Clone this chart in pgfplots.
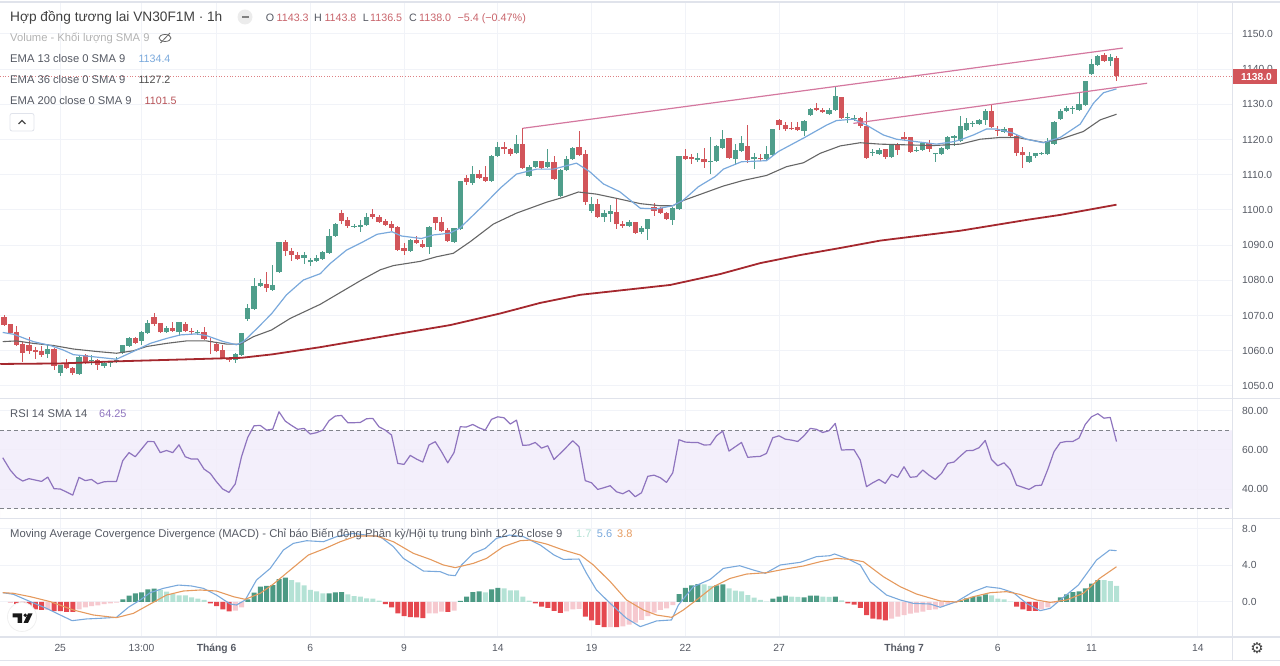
\documentclass[border=0pt]{standalone}
\usepackage{pgfplots}
\usepackage{pgfplotstable}
\usepackage{fontspec}
\pgfplotsset{compat=1.18}
\setmainfont{Liberation Sans}
\newfontfamily\djv{DejaVu Sans}
\definecolor{cgreen}{HTML}{4F9E8B}
\definecolor{cred}{HTML}{D2555A}
\definecolor{emablue}{HTML}{7AA9DC}
\definecolor{emagray}{HTML}{666666}
\definecolor{emared}{HTML}{A5282E}
\definecolor{tpink}{HTML}{D4789F}
\definecolor{gridc}{HTML}{F1F3F8}
\definecolor{sepc}{HTML}{E0E3EB}
\definecolor{rsil}{HTML}{8E74BE}
\definecolor{rsib}{HTML}{F1ECFA}
\definecolor{hdg}{HTML}{4C9A84}
\definecolor{hlg}{HTML}{B4E2D5}
\definecolor{hdr}{HTML}{E5484F}
\definecolor{hlr}{HTML}{F6C9CF}
\definecolor{macdo}{HTML}{E59A5E}
\definecolor{txt}{HTML}{555963}
\definecolor{vred}{HTML}{C8636A}

\pgfplotstableread{
i o h l c
7 1059.0 1061.9 1058.0 1060.5
9 1053.8 1056.0 1052.7 1056.0
12 1053.4 1058.5 1053.3 1058.1
14 1057.0 1058.7 1056.0 1057.4
16 1055.7 1056.7 1055.0 1056.4
17 1056.4 1057.2 1055.5 1056.7
18 1057.2 1058.3 1056.4 1057.5
19 1059.5 1061.7 1059.3 1061.5
20 1061.4 1064.0 1061.2 1063.7
22 1062.8 1065.7 1061.5 1065.2
23 1065.0 1068.6 1064.8 1068.0
26 1065.2 1067.0 1065.1 1066.4
28 1065.2 1068.3 1064.2 1068.1
31 1065.2 1065.9 1064.4 1065.4
37 1057.4 1059.3 1056.6 1059.0
38 1058.8 1065.0 1058.7 1065.0
39 1069.0 1073.3 1068.4 1072.2
40 1071.9 1080.6 1071.8 1078.5
41 1078.4 1080.4 1078.2 1079.2
43 1077.4 1084.4 1077.3 1078.8
44 1082.3 1090.8 1082.2 1090.8
48 1086.3 1088.2 1084.7 1087.2
49 1085.1 1086.3 1084.1 1085.7
50 1085.5 1087.2 1085.3 1086.4
51 1086.2 1088.4 1085.8 1088.2
52 1087.9 1094.5 1087.7 1092.6
53 1092.7 1096.4 1092.6 1096.0
56 1095.3 1096.0 1094.9 1095.5
57 1095.2 1097.2 1093.6 1095.8
58 1095.6 1099.2 1095.5 1098.1
65 1088.4 1091.8 1088.3 1091.4
68 1089.6 1095.5 1087.5 1095.3
72 1091.0 1094.9 1090.9 1094.8
73 1094.7 1108.3 1094.5 1108.2
75 1107.8 1112.6 1107.1 1110.1
78 1108.2 1115.6 1108.1 1115.4
79 1115.4 1119.2 1115.2 1117.9
82 1116.1 1121.3 1115.9 1118.8
84 1109.7 1112.8 1109.3 1112.1
85 1112.2 1113.9 1112.1 1113.8
87 1112.2 1117.2 1111.9 1113.6
89 1104.1 1111.6 1104.0 1111.4
90 1111.4 1115.3 1111.2 1114.4
91 1114.4 1117.8 1114.2 1117.6
94 1099.8 1103.8 1099.1 1101.8
96 1098.0 1100.0 1096.7 1099.1
97 1098.9 1101.4 1096.7 1099.6
100 1095.4 1097.2 1095.1 1096.6
102 1093.8 1095.5 1093.2 1094.8
103 1094.6 1097.5 1091.5 1097.5
107 1097.2 1100.8 1095.7 1100.5
108 1100.2 1115.4 1100.0 1115.3
111 1114.3 1116.3 1113.7 1114.7
113 1113.5 1120.6 1110.2 1113.8
114 1114.0 1118.5 1113.9 1118.1
115 1117.7 1122.7 1117.5 1120.3
117 1114.4 1118.8 1112.8 1117.0
118 1116.7 1121.0 1116.5 1119.0
120 1114.4 1116.1 1111.7 1115.0
122 1114.4 1118.3 1113.9 1115.8
123 1115.5 1123.1 1115.3 1123.0
128 1122.5 1125.5 1121.0 1125.4
129 1126.9 1128.9 1126.7 1128.6
132 1127.4 1128.9 1127.2 1128.5
133 1128.3 1135.0 1128.1 1132.5
135 1126.0 1127.5 1124.6 1126.4
136 1125.8 1127.1 1125.3 1126.0
139 1116.2 1117.3 1115.3 1116.5
140 1115.9 1117.6 1115.7 1117.0
142 1115.0 1118.7 1114.9 1118.5
146 1116.8 1118.0 1116.5 1117.1
147 1117.0 1119.3 1116.9 1119.1
149 1115.8 1116.2 1113.7 1116.2
150 1115.9 1117.8 1115.7 1117.6
151 1117.3 1121.0 1117.1 1120.6
152 1120.5 1121.3 1118.2 1121.0
153 1119.7 1126.7 1119.5 1123.9
154 1122.7 1126.0 1122.5 1124.8
155 1124.5 1125.4 1123.5 1124.8
156 1124.5 1125.9 1124.4 1125.6
157 1125.6 1128.6 1124.1 1128.2
160 1122.2 1123.7 1122.0 1123.0
164 1113.6 1116.6 1113.5 1115.3
165 1115.2 1116.3 1114.9 1116.1
166 1115.9 1116.5 1115.6 1116.1
167 1115.8 1120.4 1115.7 1119.7
168 1118.8 1125.3 1118.5 1125.1
169 1125.9 1128.6 1125.8 1128.2
170 1128.0 1129.4 1127.7 1129.1
171 1128.8 1129.6 1127.3 1129.0
172 1128.5 1133.3 1128.2 1130.0
173 1129.7 1136.6 1129.5 1136.5
174 1138.6 1142.8 1138.4 1141.4
175 1141.2 1144.0 1141.0 1143.8
177 1142.4 1144.2 1140.9 1143.4
}\candlesUp

\pgfplotstableread{
i o h l c
0 1069.5 1070.2 1067.0 1067.3
1 1067.6 1067.6 1064.8 1065.0
2 1065.2 1066.9 1061.5 1061.6
3 1061.8 1062.6 1056.7 1059.3
4 1061.5 1063.8 1059.1 1059.9
5 1060.2 1061.2 1057.6 1059.7
6 1059.8 1061.4 1058.1 1058.8
8 1060.5 1060.7 1054.5 1055.8
10 1056.2 1057.6 1054.7 1055.0
11 1055.0 1055.3 1053.1 1053.6
13 1058.7 1059.1 1056.3 1056.4
15 1057.4 1057.8 1054.4 1056.0
21 1063.6 1064.0 1062.1 1062.3
24 1069.7 1070.6 1067.0 1067.5
25 1067.8 1067.9 1065.1 1065.2
27 1066.4 1068.3 1065.4 1065.7
29 1067.6 1068.1 1065.5 1065.7
30 1065.5 1066.4 1064.5 1065.2
32 1065.2 1066.7 1063.3 1063.4
33 1062.9 1063.6 1059.0 1062.5
34 1062.0 1062.6 1059.7 1059.9
35 1060.1 1061.5 1057.8 1057.9
36 1058.0 1058.3 1056.7 1057.4
42 1079.1 1082.5 1076.6 1077.7
45 1090.8 1091.5 1086.9 1088.3
46 1088.4 1089.1 1085.5 1087.3
47 1087.2 1088.2 1085.8 1086.0
54 1099.1 1100.0 1095.9 1096.9
55 1097.1 1097.9 1094.8 1095.5
59 1098.9 1100.3 1097.4 1098.1
60 1098.1 1098.6 1096.2 1096.6
61 1096.9 1097.4 1095.5 1095.7
62 1096.1 1097.0 1094.1 1094.9
63 1095.2 1095.5 1088.5 1088.7
64 1089.2 1090.5 1087.2 1088.3
66 1091.4 1092.7 1090.2 1090.5
67 1090.4 1091.5 1089.3 1089.6
69 1098.0 1098.1 1094.3 1096.3
70 1096.6 1097.9 1093.8 1094.0
71 1094.3 1094.8 1091.1 1091.3
74 1109.0 1109.9 1107.0 1108.0
76 1110.1 1111.4 1108.7 1109.0
77 1109.5 1112.6 1108.1 1108.3
80 1117.9 1119.4 1115.8 1117.2
81 1117.2 1117.5 1115.2 1115.9
83 1118.8 1123.4 1111.9 1112.0
86 1113.8 1113.9 1111.8 1112.0
88 1113.6 1115.3 1108.5 1108.9
92 1117.8 1122.5 1115.5 1115.6
93 1115.9 1116.9 1101.3 1102.4
95 1101.8 1103.0 1097.6 1098.0
98 1099.5 1103.2 1094.7 1096.0
99 1096.1 1097.0 1094.9 1095.5
101 1096.6 1096.7 1093.2 1093.5
104 1100.9 1102.1 1098.4 1099.8
105 1100.5 1100.8 1098.9 1099.1
106 1099.2 1099.3 1097.2 1097.4
109 1115.3 1117.2 1114.2 1114.5
110 1115.0 1115.8 1113.2 1114.6
112 1114.4 1117.7 1112.0 1113.5
116 1120.4 1120.5 1114.8 1114.9
119 1118.1 1124.0 1113.3 1114.2
121 1114.9 1115.8 1113.9 1114.4
124 1125.6 1125.8 1122.7 1124.0
125 1124.1 1125.1 1122.3 1122.9
126 1123.2 1124.9 1122.7 1122.9
127 1123.5 1124.9 1122.4 1122.6
130 1128.9 1130.5 1128.1 1128.3
131 1128.3 1128.9 1127.5 1127.7
134 1132.0 1132.2 1125.8 1126.0
137 1126.2 1126.5 1123.2 1123.9
138 1123.8 1127.7 1114.6 1114.7
141 1117.2 1117.4 1114.6 1115.1
143 1118.4 1119.1 1115.6 1117.1
144 1120.7 1122.2 1119.9 1120.3
145 1120.6 1120.7 1116.4 1116.6
148 1118.9 1119.9 1116.5 1117.4
158 1128.2 1129.8 1123.6 1123.7
159 1122.6 1123.9 1121.1 1122.4
161 1123.2 1123.4 1120.9 1121.1
162 1121.1 1121.2 1115.2 1116.3
163 1116.6 1117.8 1111.8 1115.6
176 1144.0 1144.5 1142.2 1142.3
178 1143.3 1143.8 1136.5 1138.0
}\candlesDown

\newcommand\T[5]{\node[anchor=base west,inner sep=0pt,text=#3,font=\fontsize{#4}{#4}\selectfont] at (#1pt,{666pt-#2pt}) {#5};}

\pgfplotsset{
  pane/.style={
    scale only axis, width=1232.5pt,
    xmin=-0.64, xmax=196.56,
    xtick={9,22,34,49,64,79,94,109,124,144,159,174,191},
    xticklabels={},
    axis line style={draw=none},
    major tick length=0pt,
    grid=major,
    grid style={color=gridc,line width=1pt},
    yticklabel pos=right,
    tick label style={font=\fontsize{10.3}{11}\selectfont,text=txt,inner sep=0pt},
    yticklabel style={anchor=west,xshift=9.5pt},
    xticklabel style={anchor=north,yshift=-7pt},
  }
}

\begin{document}
\begin{tikzpicture}[x=1pt,y=1pt]
\path[use as bounding box] (0pt,0pt) rectangle (1280pt,666pt);

% ---------- price pane
\begin{axis}[pane, at={(0pt,267pt)}, anchor=south west, height=396pt,
  ymin=1046.3, ymax=1158.8,
  ytick={1050,1060,1070,1080,1090,1100,1110,1120,1130,1140,1150},
  yticklabel style={/pgf/number format/.cd,fixed,fixed zerofill,precision=1,1000 sep={},assume math mode=true}]
\addplot[forget plot,draw=none,mark=none,error bars/.cd,y dir=both,y explicit,error mark=none,
  error bar style={draw=cgreen,line width=1pt}]
  table[x=i,y=o,y error plus expr=\thisrow{h}-\thisrow{o},y error minus expr=\thisrow{o}-\thisrow{l}] {\candlesUp};
\addplot[forget plot,draw=none,mark=none,error bars/.cd,y dir=both,y explicit,error mark=none,
  error bar style={draw=cred,line width=1pt}]
  table[x=i,y=c,y error plus expr=\thisrow{h}-\thisrow{c},y error minus expr=\thisrow{c}-\thisrow{l}] {\candlesDown};
\addplot[forget plot,draw=none,mark=none,error bars/.cd,y dir=plus,y explicit,error mark=none,
  error bar style={draw=cgreen,line width=5.2pt}]
  table[x=i,y=o,y error plus expr=\thisrow{c}-\thisrow{o},y error minus expr=0] {\candlesUp};
\addplot[forget plot,draw=none,mark=none,error bars/.cd,y dir=plus,y explicit,error mark=none,
  error bar style={draw=cred,line width=5.2pt}]
  table[x=i,y=c,y error plus expr=\thisrow{o}-\thisrow{c},y error minus expr=0] {\candlesDown};
% EMA 200
\addplot[emared,line width=1.8pt,line join=round] coordinates {
(-0.6,1056.25)(9,1056.4)(18,1057.0)(34,1057.8)(38,1058.0)(43,1059.0)(50.5,1061.0)(63.4,1064.9)(71.4,1067.3)(79.4,1070.6)(85.8,1073.6)(92.2,1075.9)(106.6,1078.7)(114.6,1081.8)(121,1084.9)(127.4,1087.2)(133.8,1089.2)(140.2,1091.3)(153,1094.1)(163.7,1097.2)(169,1098.6)(178,1101.5)};
% EMA 36
\addplot[emagray,line width=1.1pt,line join=round] coordinates {
(-0.2,1062.6)(2,1062.8)(4.7,1062.1)(7.9,1061.5)(11.1,1060.5)(14.8,1059.8)(18,1059.3)(20.7,1060.0)(22.8,1061.2)(26,1062.1)(29.2,1062.8)(32.4,1062.8)(35.6,1061.9)(37.8,1061.9)(39.9,1064.0)(42.8,1065.9)(45.8,1069.2)(50.6,1073.2)(57.2,1080.1)(60.2,1083.0)(62.3,1084.2)(66.6,1085.4)(69.2,1086.7)(71.9,1087.7)(74.6,1091.0)(78.3,1096.0)(82,1099.1)(86.8,1102.2)(89.5,1103.6)(91.9,1105.1)(94.8,1104.5)(98,1103.3)(101.8,1101.8)(105,1101.2)(107,1101.2)(108.7,1102.7)(115.1,1106.8)(118.3,1108.4)(122,1109.8)(125.2,1112.3)(127.9,1113.4)(130.6,1116.1)(133.8,1118.2)(137,1119.1)(140.2,1118.7)(144.4,1118.5)(148.7,1118.3)(153,1118.7)(156.2,1120.1)(159.4,1120.6)(162.1,1120.6)(166.3,1119.2)(169,1120.1)(172.7,1122.3)(175.4,1125.6)(178,1127.2)};
% EMA 13
\addplot[emablue,line width=1.2pt,line join=round] coordinates {
(-0.2,1065.2)(1.5,1064.7)(4.7,1062.6)(7.4,1061.5)(9.5,1060.2)(11.1,1058.9)(14.3,1058.3)(18,1057.6)(20.7,1059.8)(23.4,1062.1)(26,1063.5)(28.2,1064.5)(30.8,1064.8)(32.4,1064.3)(35.1,1062.6)(37.2,1061.7)(38.3,1062.6)(40.4,1066.2)(42.8,1070.5)(45.2,1075.9)(47.9,1080.1)(50.6,1081.9)(52.2,1084.8)(54.8,1088.6)(57.5,1091.0)(59.7,1093.1)(62.1,1093.8)(63.6,1092.6)(66.8,1091.9)(68.7,1092.9)(71.3,1093.4)(72.9,1094.8)(76.7,1101.3)(79.4,1106.2)(82,1110.2)(85.2,1111.6)(87.9,1111.6)(91.6,1113.3)(93.7,1110.9)(95.9,1107.4)(98.5,1105.2)(101.8,1100.5)(104.4,1100.3)(107,1101.2)(108.7,1102.8)(111.1,1106.6)(113.8,1109.5)(115.1,1111.6)(118,1113.7)(122,1114.0)(123.9,1116.6)(127.9,1120.4)(131.6,1124.1)(133.2,1125.4)(135.9,1125.8)(138,1124.1)(140.7,1121.3)(142.8,1120.1)(146,1119.4)(149.2,1118.7)(151.9,1119.4)(153,1119.9)(155.1,1121.3)(157.2,1123.0)(158.8,1123.0)(161.5,1121.8)(163.6,1120.1)(166.3,1119.1)(169,1120.6)(172.2,1124.4)(174.3,1130.3)(175.9,1133.3)(178,1134.4)};
% trend lines
\addplot[tpink,line width=1.2pt] coordinates {(83,1123.2)(179,1146.0)};
\addplot[tpink,line width=1.2pt] coordinates {(135.9,1124.6)(182.9,1136.0)};
% last price
\addplot[cred!75,line width=0.7pt,dotted] coordinates {(-0.64,1138.0)(196.56,1138.0)};
\end{axis}

% ---------- RSI pane
\begin{axis}[pane, at={(0pt,147pt)}, anchor=south west, height=120pt,
  ymin=24.7, ymax=86,
  ytick={40,60,80},
  yticklabel style={/pgf/number format/.cd,fixed,fixed zerofill,precision=2,assume math mode=true}]
\addplot[fill=rsib,fill opacity=0.85,draw=none,forget plot] coordinates {(-0.64,30)(196.56,30)(196.56,70)(-0.64,70)} \closedcycle;
\addplot[txt!75,line width=0.7pt,dash pattern=on 4pt off 3pt] coordinates {(-0.64,70)(196.56,70)};
\addplot[txt!75,line width=0.7pt,dash pattern=on 4pt off 3pt] coordinates {(-0.64,30)(196.56,30)};
\addplot[rsil,line width=1.2pt,line join=round] coordinates {
(-0.2,56.0)(1,49.7)(2,46.0)(3,44.1)(4,45.3)(5,44.6)(6,43.9)(7,46.1)(8,40.2)(9,40.0)(10,38.5)(11,36.9)(12,46.0)(13,44.3)(14,44.9)(15,42.7)(16,43.7)(17,43.9)(18,43.9)(19,54.5)(20,58.6)(21,56.5)(22,60.4)(23,64.3)(24,64.2)(25,58.6)(26,59.7)(27,58.6)(28,62.6)(29,56.5)(30,55.3)(31,55.3)(32,50.2)(33,48.0)(34,43.7)(35,40.0)(36,38.3)(37,42.6)(38,56.5)(39,66.4)(40,72.3)(41,72.5)(42,70.1)(43,70.6)(44,79.5)(45,74.7)(46,72.5)(47,70.5)(48,71.0)(49,68.1)(50,68.8)(51,70.1)(52,74.9)(53,77.3)(54,77.6)(55,73.9)(56,73.9)(57,74.0)(58,75.9)(59,76.1)(60,71.8)(61,70.1)(62,67.6)(63,53.1)(64,52.6)(65,57.2)(66,55.3)(67,53.8)(68,62.5)(69,64.2)(70,59.1)(71,53.4)(72,58.6)(73,71.8)(74,71.7)(75,73.0)(76,71.3)(77,70.1)(78,75.6)(79,76.9)(80,76.4)(81,73.2)(82,75.2)(83,62.3)(84,62.5)(85,63.8)(86,60.9)(87,62.1)(88,55.1)(89,58.2)(90,61.4)(91,64.7)(92,61.6)(93,44.3)(94,43.2)(95,39.8)(96,40.7)(97,41.7)(98,38.6)(99,37.6)(100,39.3)(101,36.1)(102,38.1)(103,46.5)(104,47.1)(105,45.8)(106,43.4)(107,48.3)(108,65.2)(109,64.0)(110,63.8)(111,63.8)(112,62.5)(113,62.6)(114,67.2)(115,69.6)(116,59.4)(117,61.6)(118,63.8)(119,56.2)(120,56.5)(121,56.7)(122,58.2)(123,66.2)(124,67.2)(125,65.5)(126,65.0)(127,64.3)(128,67.2)(129,71.0)(130,70.5)(131,68.9)(132,69.8)(133,73.5)(134,59.9)(135,60.1)(136,60.1)(137,54.8)(138,41.2)(139,43.2)(140,44.9)(141,42.9)(142,47.5)(143,46.0)(144,51.4)(145,46.0)(146,46.3)(147,49.7)(148,47.1)(149,44.9)(150,48.0)(151,53.1)(152,53.8)(153,56.8)(154,59.6)(155,59.7)(156,61.1)(157,64.8)(158,55.1)(159,51.9)(160,53.4)(161,50.0)(162,42.0)(163,40.9)(164,39.8)(165,41.7)(166,42.0)(167,50.0)(168,59.1)(169,63.7)(170,64.3)(171,64.3)(172,66.0)(173,73.0)(174,76.9)(175,78.5)(176,76.2)(177,76.6)(178,64.25)};
\end{axis}

% ---------- MACD pane
\begin{axis}[pane, at={(0pt,29pt)}, anchor=south west, height=118pt,
  ymin=-3.82, ymax=9.06,
  ytick={0,4,8},
  xticklabels={25,13:00,\textbf{Tháng 6},6,9,14,19,22,27,\textbf{Tháng 7},6,11,14},
  yticklabel style={/pgf/number format/.cd,fixed,fixed zerofill,precision=1,assume math mode=true}]
\addplot[ybar,bar width=5pt,bar shift=0pt,fill=hdr,draw=none] coordinates {
(2,-.2)(3,-.25)(4,-.45)(5,-.8)(6,-.87)(8,-1.0)(9,-1.0)(10,-1.07)(11,-1.07)(33,-.15)(34,-.44)(35,-.8)(36,-1.02)(61,-.22)(62,-.58)(63,-1.24)(64,-1.53)(65,-1.64)(66,-1.67)(67,-1.75)(71,-1.09)(85,-.15)(86,-.51)(87,-.65)(88,-.98)(89,-1.2)(93,-1.6)(94,-2.0)(95,-2.51)(96,-2.73)(98,-2.73)(135,-.15)(136,-.29)(137,-.65)(138,-1.42)(139,-1.82)(140,-1.89)(141,-2.0)(162,-.51)(163,-.8)(164,-.98)(165,-.98)};
\addplot[ybar,bar width=5pt,bar shift=0pt,fill=hlr,draw=none] coordinates {
(1,-.1)(7,-.85)(12,-.8)(13,-.58)(14,-.44)(15,-.36)(16,-.22)(17,-.15)(18,-.07)(37,-.95)(38,-.58)(68,-1.24)(69,-1.24)(70,-1.05)(72,-.95)(90,-1.02)(91,-.8)(92,-.76)(97,-2.73)(99,-2.65)(100,-2.47)(101,-2.25)(102,-1.96)(103,-1.53)(104,-1.16)(105,-.87)(106,-.69)(107,-.33)(142,-1.82)(143,-1.6)(144,-1.42)(145,-1.27)(146,-1.16)(147,-1.05)(148,-.87)(149,-.8)(150,-.51)(151,-.29)(152,-.07)(166,-.8)(167,-.58)(168,-.15)};
\addplot[ybar,bar width=5pt,bar shift=0pt,fill=hdg,draw=none] coordinates {
(19,.29)(20,.69)(21,.95)(22,1.05)(23,1.38)(24,1.45)(39,.29)(40,1.02)(41,1.67)(42,1.75)(43,1.85)(44,2.51)(45,2.65)(52,.95)(53,1.05)(54,1.09)(73,.11)(74,.58)(75,1.09)(76,1.16)(78,1.38)(79,1.53)(108,.87)(109,1.53)(110,1.82)(111,1.96)(114,1.82)(115,1.93)(123,.36)(124,.58)(125,.69)(128,.51)(129,.69)(130,.69)(133,.58)(153,.11)(154,.4)(155,.55)(156,.62)(157,.84)(169,.51)(170,.84)(171,1.09)(172,1.16)(173,1.49)(174,2.0)(175,2.4)};
\addplot[ybar,bar width=5pt,bar shift=0pt,fill=hlg,draw=none] coordinates {
(25,1.31)(26,1.13)(27,.87)(28,.73)(29,.73)(30,.51)(31,.36)(32,.22)(46,2.4)(47,2.15)(48,1.82)(49,1.31)(50,1.16)(51,.95)(55,.84)(56,.65)(57,.58)(58,.4)(59,.36)(60,.15)(77,1.05)(80,1.49)(81,1.27)(82,1.27)(83,.58)(84,.15)(112,1.93)(113,1.75)(116,1.49)(117,1.24)(118,1.16)(119,.76)(120,.47)(121,.22)(122,.04)(126,.58)(127,.55)(131,.58)(132,.55)(134,.18)(158,.73)(159,.36)(160,.29)(161,.04)(176,2.4)(177,2.29)(178,1.75)};
% MACD line
\addplot[emablue,line width=1.1pt,line join=round] coordinates {
(-0.2,1.02)(1.5,.84)(4.2,.04)(6.8,-.69)(9,-1.42)(10.9,-2.04)(13.2,-1.85)(15.4,-1.78)(18,-1.67)(19.9,-.58)(21.8,.22)(23.4,1.02)(25.5,1.49)(27.9,1.85)(30,1.75)(31.9,1.49)(34,.76)(36.2,-.22)(37.2,-.33)(38.6,.22)(40.4,2.4)(42.6,3.67)(44.7,5.67)(46.3,6.4)(48.4,6.69)(51.1,6.58)(53.2,7.13)(55.9,7.49)(58,7.3)(60.2,7.13)(62.3,6.04)(63.9,4.76)(67.1,3.38)(69.8,3.31)(71.1,2.95)(72.2,2.87)(73.2,4.04)(75.1,5.31)(77,5.85)(78.8,6.95)(80.9,7.31)(83.1,7.13)(85.8,6.22)(88,5.13)(89.5,4.65)(92,4.69)(93.2,3.13)(94.8,1.31)(97,-.15)(99.6,-1.78)(101.8,-2.69)(104.4,-2.07)(106.8,-1.96)(107.9,-.33)(110.3,1.67)(113,2.47)(115.1,3.67)(117.7,3.96)(119.9,3.49)(121.8,3.13)(124.2,4.04)(127.4,4.33)(130,4.95)(132.1,5.05)(132.9,5.24)(134.8,4.76)(135.4,4.58)(137,4.04)(138.6,2.22)(141.2,.76)(143.4,.22)(145.5,-.15)(148.2,-.22)(149.8,-.58)(152.4,.04)(155.1,1.13)(157.2,1.67)(159.4,1.49)(161.5,1.02)(163.6,-.15)(165.8,-.95)(167.4,-.69)(169,.22)(171.9,1.85)(174.8,4.58)(176.9,5.67)(178,5.6)};
% signal line
\addplot[macdo,line width=1.1pt,line join=round] coordinates {
(-0.2,1.02)(1.5,.95)(4.2,.58)(7.4,.04)(11.1,-.87)(14.3,-1.42)(18,-1.71)(20.7,-1.24)(23.4,-.22)(26,.76)(28.7,1.2)(31.4,1.31)(34,1.2)(36.7,.58)(38.6,.29)(41,.95)(43.1,1.96)(45.8,3.49)(48.7,5.13)(51.4,5.85)(53.8,6.58)(56.4,7.2)(59.6,7.2)(62.3,6.58)(65.5,5.31)(68.2,4.65)(70.3,4.04)(72.2,3.75)(75.1,4.22)(77.2,4.76)(79.9,6.04)(82.6,6.69)(84.2,6.76)(86.8,6.33)(89.5,5.67)(92.2,5.13)(94.3,4.04)(97,2.22)(99.6,.22)(102.3,-.87)(104.4,-1.42)(106.8,-1.67)(108.7,-.87)(110.8,.22)(113.5,1.67)(116.2,2.58)(118.8,3.05)(122,3.2)(124.7,3.56)(127.9,3.93)(130.6,4.4)(133.2,4.76)(135.4,4.65)(137.5,4.4)(140.7,2.76)(143.4,1.67)(146,.87)(149.8,.11)(152.4,0)(155.1,.58)(157.8,1.02)(160.4,1.13)(162.5,.84)(165.2,.22)(167.4,-.04)(170,.22)(172.7,.95)(175.3,2.58)(178,3.85)};
\end{axis}

% ---------- frame
\fill[sepc] (0pt,664.5pt) rectangle (1280pt,662.8pt);
\draw[sepc,line width=1pt] (1232.5pt,664pt) -- (1232.5pt,5pt);
\draw[sepc,line width=1pt] (0pt,267pt) -- (1280pt,267pt);
\draw[sepc,line width=1pt] (0pt,147pt) -- (1280pt,147pt);
\draw[sepc,line width=1.2pt] (0pt,29pt) -- (1280pt,29pt);
\draw[sepc,line width=1pt] (0pt,5pt) -- (1280pt,5pt);

% ---------- price box
\fill[cred] (1232.7pt,{666pt-69.3pt}) rectangle (1277pt,{666pt-84pt});
\T{1241}{80.8}{white}{10.2}{\textbf{1138.0}}

% ---------- header texts
\T{10}{22}{black!75}{13.7}{Hợp đồng tương lai VN30F1M · 1h}
\fill[gray!15] (245pt,{666pt-17pt}) circle (7.5pt);
\fill[black!50] (241.5pt,{666pt-18pt}) rectangle (248.5pt,{666pt-16pt});
\T{265.7}{21.5}{txt}{10.7}{O}
\T{276.5}{21.5}{vred}{10.7}{1143.3}
\T{314}{21.5}{txt}{10.7}{H}
\T{324.3}{21.5}{vred}{10.7}{1143.8}
\T{362.7}{21.5}{txt}{10.7}{L}
\T{370}{21.5}{vred}{10.7}{1136.5}
\T{409}{21.5}{txt}{10.7}{C}
\T{419}{21.5}{vred}{10.7}{1138.0}
\T{457.3}{21.5}{vred}{10.8}{−5.4 (−0.47\%)}
\T{10}{42}{black!30}{11.2}{Volume - Khối lượng SMA 9}
\draw[black!60,line width=0.8pt] (165pt,{666pt-38pt}) ellipse (6pt and 3.5pt);
\draw[black!60,line width=0.8pt] (160.5pt,{666pt-43pt}) -- (170pt,{666pt-33pt});
\T{10}{63}{txt}{11.2}{EMA 13 close 0 SMA 9}
\T{138.3}{63}{emablue}{10.7}{1134.4}
\T{10}{84}{txt}{11.2}{EMA 36 close 0 SMA 9}
\T{138.3}{84}{black!70}{10.7}{1127.2}
\T{10}{105}{txt}{11.2}{EMA 200 close 0 SMA 9}
\T{144.5}{105}{emared!80}{10.7}{1101.5}
\draw[sepc,line width=0.8pt,rounded corners=2pt,fill=white] (10pt,{666pt-113.5pt}) rectangle (34pt,{666pt-131pt});
\draw[black!70,line width=1.1pt] (18.5pt,{666pt-124pt}) -- (22pt,{666pt-120.5pt}) -- (25.5pt,{666pt-124pt});

\T{10}{418}{txt}{11.2}{RSI 14 SMA 14}
\T{99}{418}{rsil}{10.9}{64.25}

\T{10}{538}{txt}{11.27}{Moving Average Covergence Divergence (MACD) - Chỉ báo Biến động Phân kỳ/Hội tụ trung bình 12 26 close 9}
\T{576}{538}{hlg}{11}{1.7}
\T{596.7}{538}{emablue}{11}{5.6}
\T{617}{538}{macdo}{11}{3.8}

% ---------- logo and gear
\draw[black!6,line width=0.8pt,fill=white] (22pt,{666pt-617pt}) circle (14.5pt);
\fill[black!90] (12.5pt,{666pt-613.5pt}) -- (22pt,{666pt-613.5pt}) -- (22pt,{666pt-623pt}) -- (17.5pt,{666pt-623pt}) -- (17.5pt,{666pt-617.5pt}) -- (12.5pt,{666pt-617.5pt}) -- cycle;
\fill[black!90] (25.3pt,{666pt-615.3pt}) circle (1.9pt);
\fill[black!90] (28pt,{666pt-613.5pt}) -- (32.5pt,{666pt-613.5pt}) -- (28pt,{666pt-623pt}) -- (23.5pt,{666pt-623pt}) -- cycle;
\node[inner sep=0pt,text=black!75,font=\djv\fontsize{15}{15}\selectfont] at (1257pt,{666pt-648pt}) {⚙};
\end{tikzpicture}
\end{document}
